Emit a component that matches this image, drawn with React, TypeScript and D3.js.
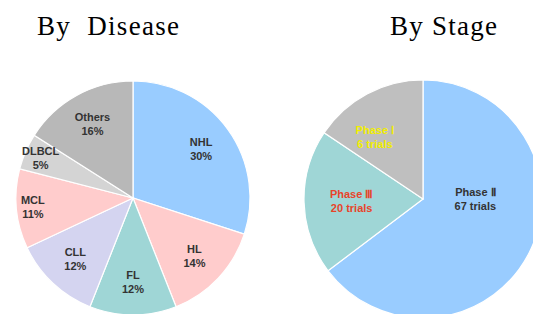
import { useEffect, useRef } from "react";
import * as d3 from "d3";

// By Disease (share of trials, %)
const diseaseNames = ["NHL", "HL", "FL", "CLL", "MCL", "DLBCL", "Others"];
const diseaseShares = [30, 14, 12, 12, 11, 5, 16];
const diseaseColors = ["#99ccff", "#ffcccc", "#9fd6d6", "#d4d4f0", "#ffcccc", "#d4d4d4", "#b8b8b8"];

// By Stage (slice sizes as drawn, label text as printed)
const stageNames = ["Phase Ⅱ", "Phase Ⅲ", "Phase Ⅰ"];
const stageTrials = ["67 trials", "20 trials", "6 trials"];
const stageShares = [64.7, 19.7, 15.6];
const stageColors = ["#99ccff", "#9fd6d6", "#bfbfbf"];
const stageTextColors = ["#333333", "#e8442a", "#f2ee00"];

export default function App() {
    const svgRef = useRef<SVGSVGElement>(null);

    useEffect(() => {
        if (!svgRef.current) return;
        const width = 533;
        const height = 314;

        d3.select(svgRef.current).selectAll("*").remove();

        const svg = d3
            .select(svgRef.current)
            .attr("width", width)
            .attr("height", height)
            .style("position", "absolute")
            .style("left", "0px")
            .style("top", "0px");

        // Titles
        svg.append("text")
            .attr("x", 37)
            .attr("y", 35)
            .attr("font-family", "'Liberation Serif', serif")
            .attr("font-size", 27)
            .attr("textLength", 142)
            .style("white-space", "pre")
            .text("By  Disease");

        svg.append("text")
            .attr("x", 390)
            .attr("y", 35)
            .attr("font-family", "'Liberation Serif', serif")
            .attr("font-size", 27)
            .attr("textLength", 107)
            .text("By Stage");

        const pie = d3.pie<number>().sort(null).value((d) => d);

        const labelFont = "'Liberation Sans', Arial, sans-serif";

        // Left pie
        const r1 = 117;
        const g1 = svg.append("g").attr("transform", "translate(133,198)");
        const arc1 = d3.arc<d3.PieArcDatum<number>>().innerRadius(0).outerRadius(r1);
        const arcs1 = pie(diseaseShares);

        g1.selectAll("path.slice")
            .data(arcs1)
            .join("path")
            .attr("class", "slice")
            .attr("d", arc1)
            .attr("fill", (_, i) => diseaseColors[i])
            .attr("stroke", "#ffffff")
            .attr("stroke-width", 1.2);

        const total1 = d3.sum(diseaseShares);
        arcs1.forEach((a, i) => {
            const frac = a.value / total1;
            const lr = r1 * (frac < 0.115 ? 0.86 : 0.72);
            const mid = (a.startAngle + a.endAngle) / 2;
            const x = Math.sin(mid) * lr;
            const y = -Math.cos(mid) * lr;
            const t = g1.append("text")
                .attr("text-anchor", "middle")
                .attr("font-family", labelFont)
                .attr("font-weight", "bold")
                .attr("font-size", 11)
                .attr("fill", "#333333");
            t.append("tspan").attr("x", x).attr("y", y - 3).text(diseaseNames[i]);
            t.append("tspan").attr("x", x).attr("y", y + 11).text(diseaseShares[i] + "%");
        });

        // Right pie
        const r2 = 119;
        const g2 = svg.append("g").attr("transform", "translate(423,199)");
        const arc2 = d3.arc<d3.PieArcDatum<number>>().innerRadius(0).outerRadius(r2);
        const arcs2 = pie(stageShares);

        g2.selectAll("path.slice")
            .data(arcs2)
            .join("path")
            .attr("class", "slice")
            .attr("d", arc2)
            .attr("fill", (_, i) => stageColors[i])
            .attr("stroke", "#ffffff")
            .attr("stroke-width", 1.2);

        arcs2.forEach((a, i) => {
            const span = a.endAngle - a.startAngle;
            let mid = (a.startAngle + a.endAngle) / 2;
            let lr = r2 * 0.6;
            if (span > Math.PI) {
                // big slice: label sits just right of the centre
                mid = Math.PI / 2;
                lr = r2 * 0.44;
            } else if (span < 1.1) {
                // narrow top slice: label pulled a bit toward the left edge
                mid -= 0.17;
                lr = r2 * 0.66;
            }
            const x = Math.sin(mid) * lr;
            const y = -Math.cos(mid) * lr;
            const t = g2.append("text")
                .attr("text-anchor", "middle")
                .attr("font-family", labelFont)
                .attr("font-weight", "bold")
                .attr("font-size", 11)
                .attr("fill", stageTextColors[i]);
            t.append("tspan").attr("x", x).attr("y", y - 3).text(stageNames[i]);
            t.append("tspan").attr("x", x).attr("y", y + 11).text(stageTrials[i]);
        });
    }, []);

    return <svg ref={svgRef} />;
}
